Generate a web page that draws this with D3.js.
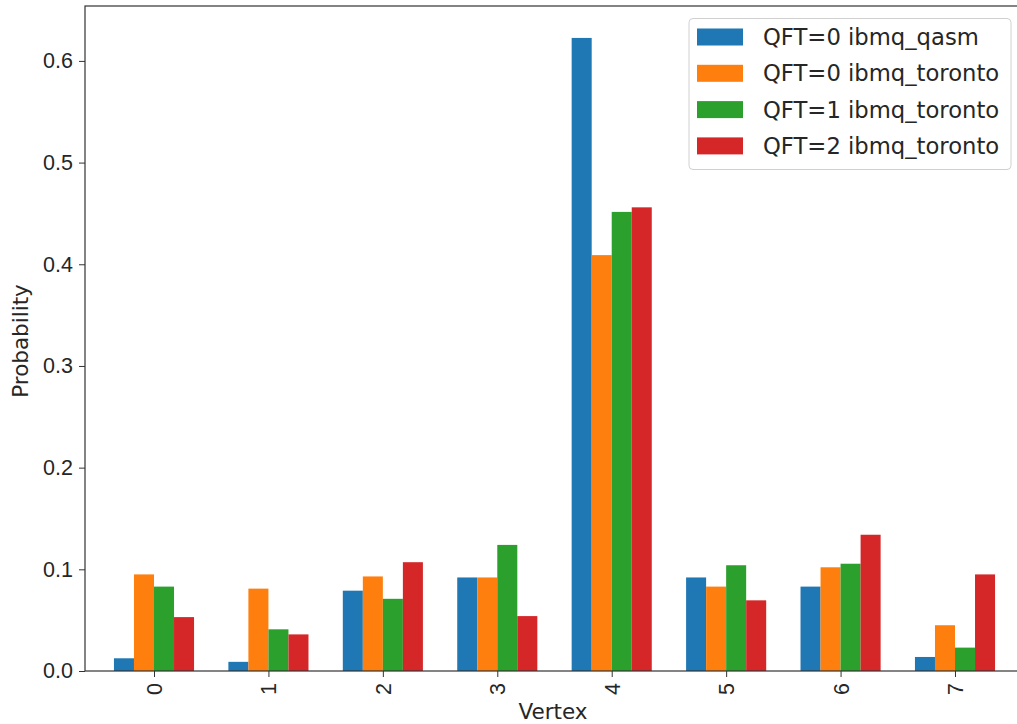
<!DOCTYPE html>
<html>
<head>
<meta charset="utf-8">
<script src="https://cdn.jsdelivr.net/npm/d3@7.9.0/dist/d3.min.js"></script>
<style>
  body { margin: 0; background: #fff; }
  svg { display: block; font-family: "DejaVu Sans", sans-serif; }
</style>
</head>
<body>
<svg width="1017" height="724"></svg>
<script>
const vertices = [0, 1, 2, 3, 4, 5, 6, 7];
const seriesNames = ['QFT=0 ibmq_qasm', 'QFT=0 ibmq_toronto', 'QFT=1 ibmq_toronto', 'QFT=2 ibmq_toronto'];
const qft0Qasm    = [0.0125, 0.009, 0.079, 0.092, 0.6226, 0.092, 0.083, 0.0138];
const qft0Toronto = [0.095, 0.081, 0.093, 0.092, 0.409, 0.083, 0.102, 0.045];
const qft1Toronto = [0.083, 0.041, 0.071, 0.124, 0.4515, 0.104, 0.1055, 0.023];
const qft2Toronto = [0.053, 0.036, 0.107, 0.054, 0.456, 0.0695, 0.134, 0.095];
const yTicks = [0.0, 0.1, 0.2, 0.3, 0.4, 0.5, 0.6];
const colors = ['#1f77b4', '#ff7f0e', '#2ca02c', '#d62728'];

const series = [qft0Qasm, qft0Toronto, qft1Toronto, qft2Toronto];
const barW = 0.175;

const svg = d3.select('svg');
const plotLeft = 85, plotTop = 6, plotBottom = 671, plotRight = 1024;

let x = d3.scaleLinear().domain([-0.603, 7.603]).range([plotLeft, plotRight]);
let y = d3.scaleLinear().domain([0, 0.654]).range([plotBottom, plotTop]);

// bars
series.forEach((vals, s) => {
  svg.append('g')
    .selectAll('rect')
    .data(vals)
    .join('rect')
    .attr('x', (d, i) => x(vertices[i] + (s - 2) * barW))
    .attr('width', x(barW) - x(0))
    .attr('y', d => y(d))
    .attr('height', d => y(0) - y(d))
    .attr('fill', colors[s]);
});

// axes
let yAxis = d3.axisLeft(y).tickValues(yTicks).tickFormat(d3.format('.1f')).tickSize(6).tickPadding(6);
let gy = svg.append('g').attr('transform', `translate(${plotLeft},0)`).call(yAxis);
gy.select('.domain').remove();
gy.selectAll('line').attr('stroke', '#333');
gy.selectAll('text').attr('font-size', 21.5).attr('fill', '#262626');

let xAxis = d3.axisBottom(x).tickValues(vertices).tickFormat(d3.format('d')).tickSize(6);
let gx = svg.append('g').attr('transform', `translate(0,${plotBottom})`).call(xAxis);
gx.select('.domain').remove();
gx.selectAll('line').attr('stroke', '#333');
gx.selectAll('text')
  .attr('font-size', 21.5).attr('fill', '#262626')
  .attr('transform', 'rotate(-90)')
  .attr('x', -12).attr('y', 0).attr('dy', '0.35em')
  .attr('text-anchor', 'end');

// frame
svg.append('rect')
  .attr('x', plotLeft).attr('y', plotTop)
  .attr('width', plotRight - plotLeft).attr('height', plotBottom - plotTop)
  .attr('fill', 'none').attr('stroke', '#333').attr('stroke-width', 1.2);

// axis labels
svg.append('text').attr('x', 553).attr('y', 719)
  .attr('text-anchor', 'middle').attr('font-size', 21.5).attr('fill', '#262626')
  .text('Vertex');
svg.append('text')
  .attr('transform', 'translate(28,341) rotate(-90)')
  .attr('text-anchor', 'middle').attr('font-size', 21.5).attr('fill', '#262626')
  .text('Probability');

// legend
let legend = svg.append('g');
legend.append('rect')
  .attr('x', 689).attr('y', 18.5).attr('width', 322).attr('height', 151).attr('rx', 4)
  .attr('fill', '#fff').attr('fill-opacity', 0.8).attr('stroke', '#d0d0d0');
seriesNames.forEach((name, i) => {
  const cy = 37 + i * 36.3;
  legend.append('rect').attr('x', 697).attr('y', cy - 8.5).attr('width', 46).attr('height', 17)
    .attr('fill', colors[i]);
  legend.append('text').attr('x', 763).attr('y', cy).attr('dy', '0.36em')
    .attr('font-size', 22.7).attr('fill', '#262626').text(name);
});
</script>
</body>
</html>
